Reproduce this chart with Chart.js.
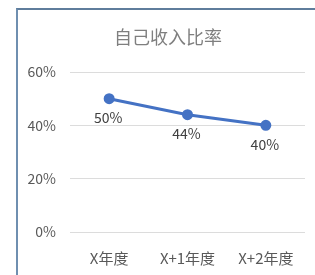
<!DOCTYPE html>
<html>
<head>
<meta charset="utf-8">
<script src="https://cdn.jsdelivr.net/npm/chart.js@4/dist/chart.umd.min.js"></script>
<style>
  html, body { margin: 0; padding: 0; background: #fff; overflow: hidden; }
  #wrap { position: relative; width: 315px; height: 275px; overflow: hidden; }
  #frame { position: absolute; left: 16px; top: 8px; width: 297px; height: 265px;
           border-top: 2px solid #5f7d9c; border-left: 2px solid #6f8fb0; }
  canvas { position: absolute; left: 0; top: 0; width: 315px; height: 275px; }
</style>
</head>
<body>
<div id="wrap">
  <div id="frame"></div>
  <canvas id="chart" width="315" height="275"></canvas>
</div>
<script>
const categories = ['X年度', 'X+1年度', 'X+2年度'];
const ratios = [0.50, 0.44, 0.40];
const valueLabels = ['50%', '44%', '40%'];
const yTicks = [0, 0.2, 0.4, 0.6];
const chartTitle = '自己收入比率';

const FONT = "'Noto Sans CJK SC', sans-serif";

// title plus the percentage under each point
const extraText = {
    id: 'extraText',
    afterDatasetsDraw(chart) {
        const ctx = chart.ctx;
        const meta = chart.getDatasetMeta(0);
        ctx.save();
        ctx.textAlign = 'center';
        ctx.textBaseline = 'middle';
        ctx.font = '18px ' + FONT;
        ctx.fillStyle = '#7f7f7f';
        ctx.fillText(chartTitle, 168, 37);
        ctx.font = '14px ' + FONT;
        ctx.fillStyle = '#404040';
        meta.data.forEach(function(pt, i) {
            ctx.fillText(valueLabels[i], pt.x - 1, pt.y + 19);
        });
        ctx.restore();
    }
};

new Chart(document.getElementById('chart').getContext('2d'), {
    type: 'line',
    data: {
        labels: categories,
        datasets: [{
            data: ratios,
            borderColor: '#4472C4',
            borderWidth: 3,
            pointBackgroundColor: '#4472C4',
            pointBorderColor: '#4472C4',
            pointRadius: 4,
            fill: false,
            tension: 0
        }]
    },
    options: {
        responsive: false,
        maintainAspectRatio: false,
        animation: false,
        layout: { padding: { top: 72, right: 10, bottom: 8, left: 0 } },
        plugins: {
            legend: { display: false },
            tooltip: { enabled: false },
            title: { display: false }
        },
        scales: {
            y: {
                min: 0,
                max: 0.6,
                afterBuildTicks(scale) {
                    scale.ticks = yTicks.map(v => ({ value: v }));
                },
                afterFit(scale) { scale.width = 70; },
                grid: { color: '#dcdcdc', lineWidth: 1, drawTicks: false, tickLength: 0 },
                border: { display: false },
                ticks: {
                    padding: 14,
                    color: '#595959',
                    font: { family: FONT, size: 14 },
                    callback: v => Math.round(v * 100) + '%'
                }
            },
            x: {
                offset: true,
                afterFit(scale) { scale.height = 35; },
                grid: { display: false, drawTicks: false, tickLength: 0 },
                border: { display: false },
                ticks: {
                    padding: 17,
                    maxRotation: 0,
                    minRotation: 0,
                    color: '#595959',
                    font: { family: FONT, size: 15 }
                }
            }
        }
    },
    plugins: [extraText]
});
</script>
</body>
</html>
